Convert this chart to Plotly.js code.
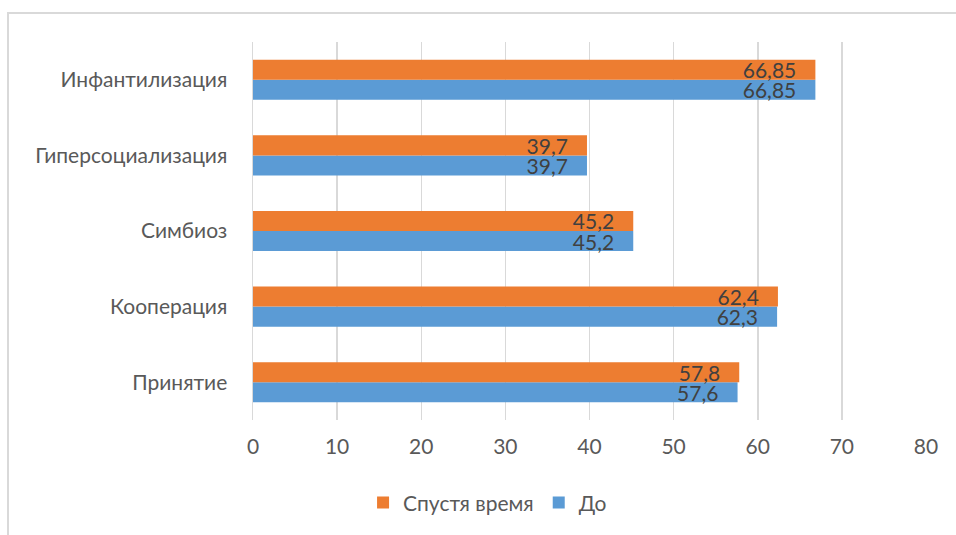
<!DOCTYPE html>
<html>
<head>
<meta charset="utf-8">
<script src="https://cdn.plot.ly/plotly-3.0.1.min.js"></script>
<style>
  html, body { margin: 0; padding: 0; background: #fff; }
  #wrap { position: relative; width: 956px; height: 535px; }
  #chart { position: absolute; left: 0; top: 0; width: 956px; height: 535px; }
  #frame { position: absolute; left: 7px; top: 12px; width: 960px; height: 530px;
           border-top: 2px solid #d9d9d9; border-left: 2px solid #d9d9d9; pointer-events: none; }
</style>
</head>
<body>
<div id="wrap">
  <div id="chart"></div>
  <div id="frame"></div>
</div>
<script>
const categories = ["Принятие", "Кооперация", "Симбиоз", "Гиперсоциализация", "Инфантилизация"];
const beforeValues = [57.6, 62.3, 45.2, 39.7, 66.85];
const afterValues = [57.8, 62.4, 45.2, 39.7, 66.85];
const seriesNames = ["До", "Спустя время"];
const xTicks = [0, 10, 20, 30, 40, 50, 60, 70, 80];

const PAD = '\u00a0\u00a0\u00a0';
const fmt = v => String(v).replace('.', ',') + PAD;
const FONT = "Lato, 'Open Sans', sans-serif";
const FS = 21;

const common = {
  type: 'bar',
  orientation: 'h',
  y: categories,
  textposition: 'inside',
  insidetextanchor: 'end',
  textangle: 0,
  constraintext: 'none',
  textfont: { family: FONT, size: FS, color: '#404040' },
  hoverinfo: 'x+y+name'
};

const traces = [
  Object.assign({}, common, {
    name: seriesNames[0],
    x: beforeValues,
    text: beforeValues.map(fmt),
    marker: { color: '#5B9BD5' }
  }),
  Object.assign({}, common, {
    name: seriesNames[1],
    x: afterValues,
    text: afterValues.map(fmt),
    marker: { color: '#ED7D31' }
  })
];

const layout = {
  width: 956,
  height: 535,
  margin: { l: 253, r: 30, t: 42, b: 115 },
  paper_bgcolor: '#ffffff',
  plot_bgcolor: '#ffffff',
  barmode: 'group',
  bargap: 0.47,
  bargroupgap: 0,
  font: { family: FONT, size: FS, color: '#595959' },
  xaxis: {
    range: [0, 80],
    tickvals: xTicks,
    ticktext: xTicks.map(String),
    showgrid: true,
    gridcolor: '#d9d9d9',
    gridwidth: 1.5,
    zeroline: false,
    showline: false,
    ticks: '',
    ticklabelstandoff: 12,
    tickfont: { family: FONT, size: FS, color: '#595959' },
    fixedrange: true
  },
  yaxis: {
    type: 'category',
    categoryorder: 'array',
    categoryarray: categories,
    showgrid: false,
    zeroline: false,
    showline: true,
    linecolor: '#d9d9d9',
    linewidth: 1.5,
    ticks: '',
    ticklabelstandoff: 20,
    tickfont: { family: FONT, size: FS, color: '#595959' },
    fixedrange: true
  },
  showlegend: true,
  legend: {
    orientation: 'h',
    traceorder: 'reversed',
    xref: 'container',
    yref: 'container',
    x: 0.51,
    xanchor: 'center',
    y: 0.06,
    yanchor: 'middle',
    font: { family: FONT, size: FS, color: '#595959' },
    itemclick: false,
    itemdoubleclick: false
  }
};

Plotly.newPlot('chart', traces, layout, { displayModeBar: false, staticPlot: true });
</script>
</body>
</html>
